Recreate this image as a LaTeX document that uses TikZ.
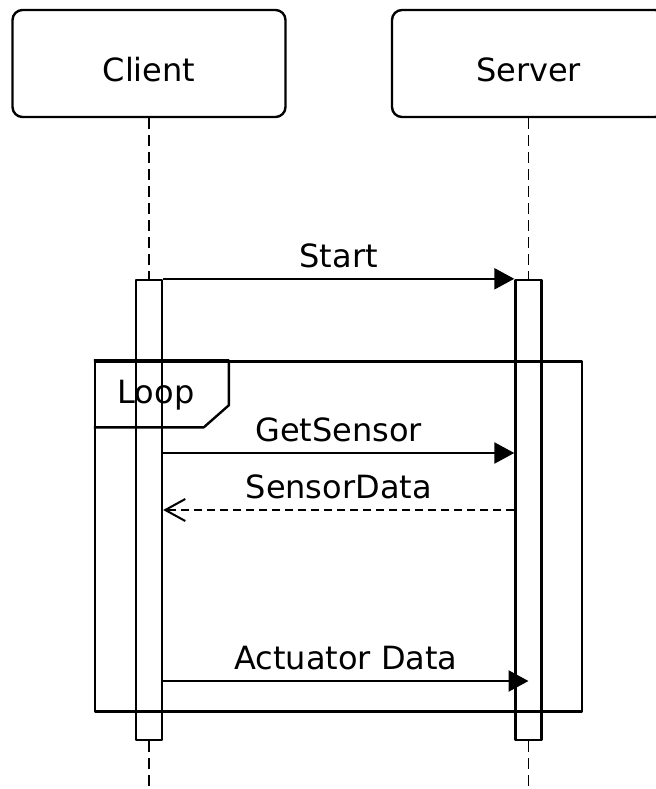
\documentclass[tikz,border=0pt]{standalone}
\usepackage{fontspec}
\setmainfont{DejaVu Sans}
\usepackage{tikz}
\usetikzlibrary{arrows.meta,calc,positioning}
\newcommand{\seqfont}{\fontsize{16}{19}\selectfont}
\tikzset{
every picture/.style={line join=round},
actor box/.style={
  draw=black,
  rounded corners=5pt,
  line width=1.2pt,
  minimum width=136.5pt,
  minimum height=53.5pt,
  text height=18pt,
  font=\seqfont
},
act bar/.style={draw=black, fill=white, line width=1.2pt, minimum width=13pt, minimum height=230pt, inner sep=0pt},
life line/.style={draw=black, line width=0.6pt, dash pattern=on 5.5pt off 3pt},
msg call/.style={draw=black, line width=1.2pt, -{Triangle[length=10pt,width=10.5pt]}},
msg reply/.style={
  draw=black,
  line width=1pt,
  dash pattern=on 4pt off 2.5pt,
  -{Straight Barb[length=10pt,width=11pt,line width=1pt]}
},
msg label/.style={font=\seqfont, inner sep=5pt},
frame box/.style={draw=black, line width=1.2pt, minimum width=243.5pt, minimum height=175pt, inner sep=0pt}
}

\begin{document}
\begin{tikzpicture}[x=0.5pt,y=-0.5pt]
\useasboundingbox (0,0) rectangle (655,789);
% participants and activation bars
\node[actor box] (client) at (149,63.5) {Client};
\node[actor box] (server) at (528.5,63.5) {Server};
\node[act bar] (cbar) at (149,510) {};
\node[act bar] (sbar) at (528.5,510) {};
\coordinate (cend) at (149,789);
\coordinate (send) at (528.5,789);
\foreach \top/\bar/\bottom in {client/cbar/cend,server/sbar/send} {
\draw[life line] (\top) -- (\bar);
\draw[life line] (\bar) -- (\bottom);
}
% loop fragment
\node[frame box] (loop) at (338.5,536.5) {};
\draw[line width=1.2pt] (loop.north west) -- ++(135,0) -- ++(0,45) -- ++(-25,22) -- ++(-110,0);
\node[font=\seqfont, anchor=base] (looptag) at (156,403) {Loop};
% messages
\draw[msg call] (cbar.north east) -- node[msg label, above] {Start} (sbar.north west);
\draw[msg call] (cbar.east |- 0,453) -- node[msg label, above] {GetSensor} (sbar.west |- 0,453);
\draw[msg reply] (sbar.west |- 0,510) -- node[msg label, above] {SensorData} (cbar.east |- 0,510);
\draw[msg call] (cbar.east |- 0,681) -- node[msg label, above] {Actuator Data} (sbar.center |- 0,681);
\end{tikzpicture}
\end{document}
